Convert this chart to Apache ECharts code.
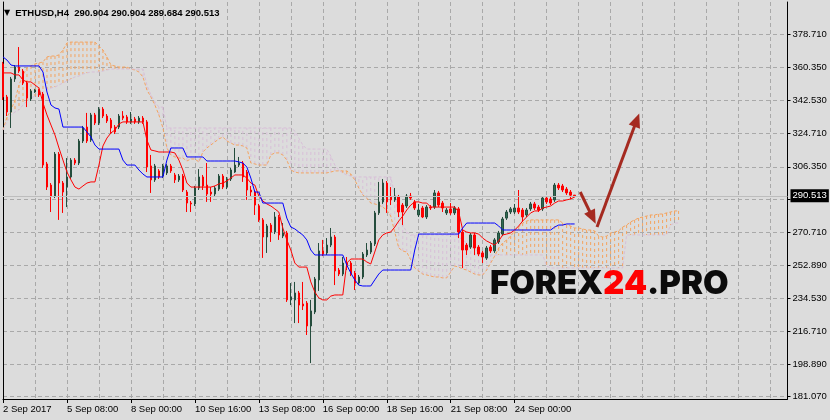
<!DOCTYPE html>
<html><head><meta charset="utf-8">
<script src="https://cdn.jsdelivr.net/npm/echarts@6/dist/echarts.min.js"></script>
<style>html,body{margin:0;padding:0;background:#dcdcdc}#c{width:830px;height:420px}</style>
</head><body><div id="c"></div>
<script>
const symbolName = "ETHUSD,H4";
const lastBar = [290.904, 290.904, 289.684, 290.513]; // open high low close
const xTickIndex = [0, 16, 32, 48, 64, 80, 96, 112, 128];
const xTickLabels = ["2 Sep 2017", "5 Sep 08:00", "8 Sep 00:00", "10 Sep 16:00", "13 Sep 08:00", "16 Sep 00:00", "18 Sep 16:00", "21 Sep 08:00", "24 Sep 00:00"];
const yTickValues = [181.07, 198.89, 216.71, 234.53, 252.89, 270.71, 288.53, 306.35, 324.71, 342.53, 360.35, 378.71];

// candles: [open, close, low, high]
const candles = [
[362.4,344.4,342.7,363.5],[344.4,336.2,334.0,345.5],[336.2,354.2,327.5,355.3],[354.2,360.7,352.6,361.8],[360.7,358.5,357.5,371.6],
[358.5,352.0,350.9,359.6],[352.0,343.8,338.9,353.1],[343.3,347.6,342.2,348.7],[347.1,348.2,346.6,348.7],[348.2,345.5,344.4,348.7],
[346.0,307.3,305.7,347.1],[307.9,295.3,293.7,309.0],[296.4,290.4,281.7,297.5],[290.4,313.3,289.3,314.4],[313.3,297.5,277.4,314.4],
[297.5,292.6,281.2,298.6],[295.3,300.8,284.4,311.1],[300.8,310.0,299.7,311.1],[310.0,308.4,307.3,311.1],[308.4,320.4,307.3,321.5],
[320.4,327.5,319.3,328.6],[328.0,320.4,319.3,335.7],[320.9,334.6,319.9,335.7],[334.6,330.2,329.1,335.7],[330.2,337.8,329.1,338.9],
[337.8,334.0,332.9,338.9],[334.0,331.3,330.2,335.1],[331.8,327.5,324.8,332.9],[328.0,325.3,324.2,329.1],[328.0,334.0,326.9,335.1],
[334.0,332.9,331.8,336.7],[333.5,330.8,329.7,334.6],[330.8,332.4,329.7,336.2],[332.4,330.8,329.7,333.5],[330.8,332.9,329.7,334.0],
[332.9,330.8,329.7,334.0],[330.8,306.2,303.5,331.8],[306.8,299.2,292.1,312.8],[299.2,306.8,298.1,307.9],[304.1,300.8,299.7,305.1],
[301.3,306.8,300.2,307.9],[303.0,306.8,301.9,307.9],[306.8,304.1,303.0,307.9],[301.9,299.2,297.5,303.0],[299.2,301.3,298.1,302.4],
[301.3,293.7,292.6,302.4],[292.6,286.6,281.7,293.7],[286.6,286.1,281.7,287.7],[286.1,294.8,285.0,295.9],[294.8,300.8,293.7,305.1],
[300.8,295.9,293.7,301.9],[296.4,291.5,287.2,308.4],[292.6,291.5,287.2,295.3],[291.5,294.8,290.4,295.9],[294.2,301.3,293.2,302.4],
[301.3,295.3,294.2,302.4],[295.3,299.7,294.2,300.8],[299.7,304.6,298.6,305.7],[303.5,307.3,303.0,316.6],[307.3,308.4,306.2,311.7],
[308.4,300.8,298.1,309.5],[303.5,293.7,288.3,304.6],[293.7,292.6,290.4,295.9],[292.6,285.5,280.1,293.7],[285.0,277.4,276.3,286.1],
[277.4,268.1,256.7,278.4],[268.1,274.1,259.4,275.2],[274.6,270.8,265.4,275.7],[270.8,279.0,269.7,281.7],[279.0,269.2,266.5,280.1],
[268.6,270.3,267.5,275.7],[270.3,233.8,232.7,271.4],[233.8,235.4,231.0,243.0],[233.8,237.6,221.2,243.6],[237.6,231.0,221.2,238.7],
[231.6,230.5,228.3,243.6],[232.1,219.6,214.7,233.2],[219.6,227.8,199.4,233.8],[227.2,245.2,226.1,246.3],[244.7,260.5,238.7,264.8],
[260.5,258.8,257.7,266.5],[259.4,263.7,258.3,267.5],[263.7,268.1,262.6,273.0],[268.1,249.6,241.9,269.2],[250.1,247.9,246.8,251.2],
[247.9,253.9,246.8,257.2],[253.9,252.8,250.1,257.2],[253.9,247.9,246.8,255.0],[248.5,243.0,239.2,249.6],[243.0,246.3,241.9,247.4],
[246.3,258.8,245.2,259.9],[258.3,261.0,257.2,264.8],[259.9,264.8,258.8,265.9],[264.3,281.2,263.2,282.3],[281.2,287.2,280.1,298.1],
[287.2,297.5,286.1,299.7],[297.5,287.2,281.2,298.6],[289.9,288.3,285.5,295.3],[288.3,290.4,287.2,294.8],[289.9,281.7,279.0,291.0],
[285.5,281.7,274.6,286.6],[285.0,290.4,283.9,291.5],[290.4,289.3,288.3,292.1],[287.2,283.9,282.8,288.3],[280.1,282.8,279.0,286.1],
[283.9,279.0,278.4,285.0],[279.0,284.4,277.9,285.5],[284.4,283.9,282.8,285.5],[284.4,292.1,283.4,293.7],[292.1,285.5,284.4,293.2],
[286.6,283.9,281.7,287.7],[281.2,282.8,280.1,283.9],[283.4,281.2,280.1,286.6],[281.2,283.9,280.1,285.0],[283.4,270.8,267.5,284.4],
[270.8,261.0,251.2,271.9],[263.7,261.0,258.3,264.8],[262.6,269.2,261.6,270.3],[269.2,262.1,258.3,270.3],[262.6,258.8,257.7,263.7],
[259.4,257.2,253.9,260.5],[256.6,262.1,255.6,263.2],[262.6,260.5,259.4,263.7],[260.5,266.5,259.4,267.5],[265.4,270.3,264.3,271.4],
[269.7,277.9,268.6,279.0],[278.4,281.7,277.4,282.8],[281.7,283.4,280.6,284.4],[281.7,283.9,280.6,286.1],[283.9,281.7,280.6,293.7],
[282.8,279.0,276.3,283.9],[280.1,282.8,279.0,283.9],[283.4,286.1,282.3,287.2],[286.1,283.9,282.8,287.2],[284.4,282.8,281.7,285.5],
[283.4,289.3,282.3,290.4],[289.3,287.2,286.1,290.4],[288.8,286.6,285.5,289.9],[288.3,296.4,287.2,297.5],[296.4,294.8,293.7,297.5],
[295.9,293.7,292.6,297.0],[294.2,292.1,291.0,295.3],[292.6,290.9,288.8,293.7],[290.904,290.513,289.684,290.904]
];

const tenkan = [
357.5,357.5,357.5,356.4,356.4,353.6,352.6,352.6,350.9,349.3,
341.1,334.6,329.1,323.7,316.6,310.0,303.5,299.2,295.3,294.2,
295.9,297.5,298.1,298.1,307.3,317.7,322.0,324.8,326.4,329.7,
330.8,330.8,330.8,330.8,330.8,330.8,320.9,315.5,315.0,314.4,
314.4,314.4,314.4,313.9,310.0,304.6,297.5,295.3,295.3,295.3,
295.3,295.3,295.3,295.9,297.0,297.5,298.6,300.2,301.9,301.9,
301.9,300.2,297.5,296.4,290.4,287.7,286.1,285.0,283.4,281.7,
273.0,266.5,261.0,253.9,251.7,251.7,251.7,243.6,238.1,234.9,
233.8,233.8,235.9,236.5,236.5,236.5,253.9,256.1,256.1,256.1,
256.1,254.5,253.4,259.9,266.5,269.2,270.3,270.8,273.5,276.8,
279.5,282.8,285.5,287.2,287.2,286.6,286.6,284.4,284.4,284.4,
284.4,284.4,284.4,284.4,281.7,271.9,270.8,270.3,270.3,269.7,
267.5,265.9,264.8,263.7,265.9,269.2,269.7,270.3,271.9,274.1,
276.8,279.0,281.2,282.3,282.3,283.9,284.4,285.0,286.6,287.7,
287.7,288.3,288.8,289.9
];

const kijun = [
366.2,364.5,361.8,361.3,361.3,361.3,361.3,361.3,361.3,361.3,
358.0,347.1,340.0,338.4,337.8,328.0,328.0,328.0,328.0,328.0,
328.0,325.3,322.6,318.2,316.0,316.0,316.0,316.0,316.0,316.0,
310.0,307.3,307.3,307.3,304.6,302.4,300.8,300.8,300.8,300.8,
300.8,310.0,316.6,316.6,316.6,316.6,311.7,311.7,311.7,311.7,
311.7,309.5,309.5,309.5,309.5,309.5,309.5,309.5,309.5,309.0,
308.4,306.2,300.2,292.6,292.6,286.6,286.6,286.6,286.6,286.6,
286.6,278.4,273.5,272.5,270.8,269.2,266.5,261.0,258.3,258.3,
258.3,258.3,258.3,258.3,258.3,258.3,252.8,248.5,244.7,241.9,
241.4,241.4,241.4,244.7,247.9,250.1,250.1,250.1,250.1,250.1,
250.1,250.1,250.1,261.0,269.7,269.7,269.7,269.7,269.7,269.7,
269.7,269.7,269.7,269.7,269.7,273.0,275.7,275.7,275.7,275.7,
275.7,275.7,275.7,275.7,274.1,271.9,271.9,271.9,271.9,271.9,
271.9,271.9,271.9,271.9,271.9,271.9,271.9,271.9,273.5,274.6,
274.6,275.2,275.2,275.2
];

const spanA = [
326.4,333.5,337.3,342.7,350.9,356.4,360.2,361.3,362.4,362.9,
363.5,366.2,366.7,366.7,367.3,370.0,373.8,374.3,374.3,374.3,
374.3,374.3,374.3,374.3,372.2,370.0,366.2,361.8,361.3,360.7,
360.7,360.7,359.6,359.1,358.0,355.3,348.2,344.4,340.0,334.6,
327.5,316.6,312.8,311.7,311.1,311.1,309.5,310.6,310.6,309.0,
314.4,316.6,318.2,319.9,321.5,322.6,320.4,319.3,318.2,318.2,
317.7,316.6,308.4,307.9,307.3,307.3,307.3,312.8,313.9,313.9,
312.8,310.0,304.6,303.5,303.0,303.0,303.0,303.0,303.0,303.0,
303.0,303.0,303.5,304.1,304.1,304.1,304.1,302.4,299.2,294.8,
291.0,289.3,286.6,286.1,285.5,284.4,282.8,279.5,270.8,262.1,
260.5,259.9,255.6,251.2,249.6,247.9,247.4,246.8,246.3,246.3,
245.8,245.8,249.0,252.3,251.7,250.7,250.1,249.0,247.9,247.4,
247.4,250.1,253.9,257.7,262.1,264.8,266.5,268.6,271.4,273.5,
275.7,276.8,277.4,277.4,277.4,277.4,277.4,277.4,277.4,277.4,
275.7,274.6,274.1,273.0,273.0,272.5,271.9,271.9,271.4,268.6,
268.1,268.6,270.3,270.8,271.4,273.5,274.6,276.3,277.4,278.4,
279.0,279.5,280.1,280.1,280.6,280.6,281.2,281.7,282.3,282.3
];

const spanB = [
326.4,330.8,334.6,336.2,337.3,340.0,342.2,343.8,344.9,346.0,
347.1,348.2,349.3,349.8,350.9,352.0,353.1,354.2,355.3,355.8,
356.9,357.5,358.0,358.0,358.0,358.5,359.1,359.6,359.6,359.6,
359.6,359.6,359.6,359.6,359.6,359.6,350.9,345.5,341.7,338.9,
338.9,327.5,327.5,327.5,327.5,327.5,327.5,327.5,327.5,327.5,
327.5,327.5,327.5,327.5,327.5,327.5,327.5,327.5,327.5,327.5,
327.5,327.5,327.5,327.5,327.5,327.5,327.5,327.5,327.5,327.5,
327.5,327.5,327.5,325.9,322.0,318.2,316.0,316.0,316.0,316.0,
316.0,316.0,312.2,307.3,304.6,303.0,301.9,301.3,300.8,300.8,
300.8,300.8,300.8,300.8,300.8,300.8,300.8,300.8,291.0,280.1,
274.6,270.8,269.2,269.2,269.2,269.2,269.2,269.2,269.2,269.2,
269.2,269.2,269.2,269.2,268.1,266.5,264.8,263.2,261.6,259.9,
258.8,258.3,258.3,258.3,258.3,258.3,258.3,258.3,258.3,258.3,
258.3,258.3,258.3,258.3,258.3,258.3,252.3,251.2,251.2,251.2,
251.2,251.2,251.2,251.2,251.2,251.2,251.2,251.2,251.2,251.2,
251.2,251.2,251.2,251.2,251.2,251.2,269.2,269.2,269.2,269.2,
269.2,269.2,269.2,269.2,269.2,269.2,269.2,274.6,275.7,275.7
];

// annotation arrows: [barIndex, price] tail -> head
const arrowDown = [[144.4, 292.6], [147.5, 278.7]];
const arrowUp = [[148.6, 273.5], [158.55, 331.8]];

const X_MAX = 196.25, Y_MIN = 179.82, Y_MAX = 396.14;
const GRID_COLOR = '#a9a9a9';
const FONT = 'Liberation Sans, Arial, sans-serif';
const WM_FONT = 'Inter, Lato, sans-serif';
const lastClose = lastBar[3];

const chart = echarts.init(document.getElementById('c'));
const option = {
  animation: false,
  backgroundColor: '#dcdcdc',
  title: [
    {
      left: 4, top: 4, padding: 0,
      text: '{t|▼} {s|' + symbolName + '  ' + lastBar.map(v => v.toFixed(3)).join(' ') + '}',
      textStyle: { rich: {
        t: { fontFamily: 'DejaVu Sans', fontSize: 8, color: '#000' },
        s: { fontFamily: FONT, fontSize: 9.5, color: '#000' }
      } }
    },
    {
      left: 490, top: 268, padding: 0,
      text: '{a|FOREX}{b|24}{a|.PRO}',
      textStyle: { rich: {
        a: { fontFamily: WM_FONT, fontWeight: 900, fontSize: 33, color: '#0b0b0b' },
        b: { fontFamily: WM_FONT, fontWeight: 900, fontSize: 33, color: '#ff0000' }
      } }
    }
  ],
  grid: { left: 2.5, right: 42.5, top: 2, bottom: 21 },
  xAxis: [
    {
      type: 'value', min: 0, max: X_MAX, position: 'bottom',
      axisLine: { show: true, onZero: false, lineStyle: { color: '#000', width: 1 } },
      axisTick: { show: true, customValues: xTickIndex, length: 4, lineStyle: { color: '#000' } },
      axisLabel: {
        customValues: xTickIndex, align: 'left', color: '#000', fontSize: 9.5, fontFamily: FONT, margin: 5,
        formatter: v => { const k = xTickIndex.indexOf(v); return k >= 0 ? xTickLabels[k] : ''; }
      },
      splitLine: { show: false }
    },
    {
      type: 'value', min: 0, max: X_MAX, interval: 8, position: 'bottom',
      axisLine: { show: false }, axisTick: { show: false }, axisLabel: { show: false },
      splitLine: { show: true, lineStyle: { color: GRID_COLOR, width: 1, type: [4, 3] } }
    }
  ],
  yAxis: [
    {
      type: 'value', min: Y_MIN, max: Y_MAX, position: 'right',
      axisLine: { show: true, onZero: false, lineStyle: { color: '#000', width: 1 } },
      axisTick: { show: true, customValues: yTickValues, length: 3, lineStyle: { color: '#000' } },
      axisLabel: { customValues: yTickValues, color: '#000', fontSize: 9.5, fontFamily: FONT, margin: 5,
        formatter: v => v.toFixed(3) },
      splitLine: { show: true, lineStyle: { color: GRID_COLOR, width: 1, type: [4, 3] } }
    },
    {
      type: 'value', min: Y_MIN, max: Y_MAX, position: 'left',
      axisLine: { show: true, onZero: false, lineStyle: { color: '#000', width: 1 } },
      axisTick: { show: false }, axisLabel: { show: false }, splitLine: { show: false }
    }
  ],
  series: [
    {
      name: 'bid', type: 'line', data: [[candles.length - 1, lastClose]], showSymbol: false,
      lineStyle: { opacity: 0 }, silent: true, z: 1,
      markLine: {
        silent: true, symbol: 'none', animation: false,
        lineStyle: { color: '#bdbdbd', type: 'solid', width: 1 },
        label: { show: true, position: 'end', distance: 3, formatter: lastClose.toFixed(3),
          backgroundColor: '#000', color: '#fff', fontSize: 9.5, fontFamily: FONT, padding: [2, 2, 1, 2] },
        data: [{ yAxis: lastClose }]
      }
    },
    {
      name: 'cloud', type: 'custom', silent: true, z: 2,
      data: spanA.map((a, i) => [i, a, spanB[i]]),
      encode: { x: 0, y: [1, 2] },
      renderItem: (params, api) => {
        const i = api.value(0), a = api.value(1), b = api.value(2);
        const p1 = api.coord([i, a]), p2 = api.coord([i, b]);
        return { type: 'line', shape: { x1: p1[0], y1: p1[1], x2: p2[0], y2: p2[1] },
          style: { stroke: a >= b ? '#f4a460' : '#d8bfd8', lineWidth: 1, lineDash: [3, 3] } };
      }
    },
    {
      name: 'Senkou A', type: 'line', data: spanA.map((v, i) => [i, v]), showSymbol: false, silent: true, z: 2,
      lineStyle: { color: '#f4a460', width: 1, type: [3, 2] }
    },
    {
      name: 'Senkou B', type: 'line', data: spanB.map((v, i) => [i, v]), showSymbol: false, silent: true, z: 2,
      lineStyle: { color: '#d8bfd8', width: 1, type: [3, 2] }
    },
    {
      name: 'ETHUSD', type: 'candlestick', z: 3, barWidth: 2, clip: false,
      data: candles.map((c, i) => [i, c[0], c[1], c[2], c[3]]),
      encode: { x: 0, y: [1, 2, 3, 4] },
      itemStyle: { color: '#2f6a52', color0: '#ff0000', borderColor: '#254d3d', borderColor0: '#ff0000', borderWidth: 1 }
    },
    {
      name: 'Tenkan', type: 'line', data: tenkan.map((v, i) => [i, v]), showSymbol: false, silent: true, z: 4,
      lineStyle: { color: '#ff0000', width: 1 }
    },
    {
      name: 'Kijun', type: 'line', data: kijun.map((v, i) => [i, v]), showSymbol: false, silent: true, z: 4,
      lineStyle: { color: '#0000ff', width: 1 }
    },
    {
      name: 'arrows', type: 'line', data: [], silent: true, z: 6,
      markLine: {
        silent: true, animation: false, symbol: ['none', 'triangle'], symbolSize: [12, 14],
        lineStyle: { color: '#a52a20', width: 3, type: 'solid' },
        label: { show: false },
        data: [
          [{ coord: arrowDown[0] }, { coord: arrowDown[1] }],
          [{ coord: arrowUp[0] }, { coord: arrowUp[1] }]
        ]
      }
    }
  ]
};
chart.setOption(option);
</script>
</body></html>
